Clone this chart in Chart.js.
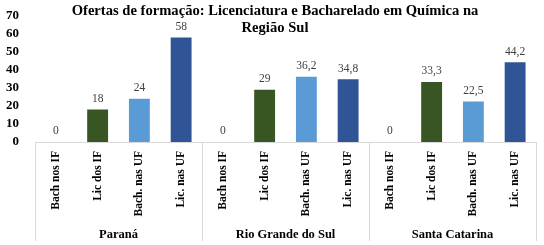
<!DOCTYPE html>
<html>
<head>
<meta charset="utf-8">
<script src="https://cdn.jsdelivr.net/npm/chart.js@4"></script>
<style>
  html, body { margin: 0; padding: 0; background: #fff; }
  #box { width: 544px; height: 245px; }
</style>
</head>
<body>
<div id="box"><canvas id="grafico"></canvas></div>
<script>
// Dados
const estados = ['Paraná', 'Rio Grande do Sul', 'Santa Catarina'];
const cursos = ['Bach nos IF', 'Lic dos IF', 'Bach. nas UF', 'Lic. nas UF'];
const parana = [0, 18, 24, 58];
const rioGrandeDoSul = [0, 29, 36.2, 34.8];
const santaCatarina = [0, 33.3, 22.5, 44.2];
const corCursos = ['#375623', '#375623', '#5B9BD5', '#2F5597'];
const titulo = ['Ofertas de formação: Licenciatura e Bacharelado em Química na', 'Região Sul'];

const serif = '"Liberation Serif", "Times New Roman", serif';

// monta rótulos e valores
const porEstado = [parana, rioGrandeDoSul, santaCatarina];
const rotulos = [];
const valores = [];
const cores = [];
porEstado.forEach(function (vals) {
    vals.forEach(function (v, i) {
        rotulos.push(cursos[i]);
        valores.push(v);
        cores.push(corCursos[i]);
    });
});

// desenha título, valores, separadores e nomes dos estados
const extras = {
    id: 'extras',
    afterDatasetsDraw(chart) {
        const ctx = chart.ctx;
        const x = chart.scales.x;
        const area = chart.chartArea;
        const meta = chart.getDatasetMeta(0);

        // valores sobre as barras
        ctx.save();
        ctx.fillStyle = '#404040';
        ctx.font = '11.5px ' + serif;
        ctx.textAlign = 'center';
        ctx.textBaseline = 'bottom';
        meta.data.forEach(function (bar, i) {
            ctx.fillText(String(valores[i]).replace('.', ','), bar.x, bar.y - 5);
        });
        ctx.restore();

        // eixo e separadores
        const n = cursos.length;
        const passo = (x.right - x.left) / rotulos.length;
        ctx.save();
        ctx.strokeStyle = '#d9d9d9';
        ctx.lineWidth = 1;
        ctx.beginPath();
        ctx.moveTo(x.left, area.bottom + 0.5);
        ctx.lineTo(x.right, area.bottom + 0.5);
        for (let g = 0; g <= estados.length; g++) {
            const px = Math.round(x.left + g * n * passo) + 0.5;
            ctx.moveTo(px, area.bottom);
            ctx.lineTo(px, 241);
        }
        ctx.stroke();

        // nomes dos estados
        ctx.fillStyle = '#000';
        ctx.font = 'bold 12.5px ' + serif;
        ctx.textAlign = 'center';
        ctx.textBaseline = 'middle';
        estados.forEach(function (e, g) {
            ctx.fillText(e, x.left + (g + 0.5) * n * passo, 235);
        });

        // título
        ctx.font = 'bold 14.6px ' + serif;
        ctx.fillText(titulo[0], 275, 11);
        ctx.fillText(titulo[1], 275, 28);
        ctx.restore();
    }
};

const grafico = new Chart(document.getElementById('grafico'), {
    type: 'bar',
    data: {
        labels: rotulos,
        datasets: [{
            data: valores,
            backgroundColor: cores,
            categoryPercentage: 1,
            barPercentage: 0.5
        }]
    },
    options: {
        responsive: true,
        maintainAspectRatio: false,
        animation: false,
        layout: { padding: { top: 14, right: 8, bottom: 0, left: 0 } },
        plugins: {
            legend: { display: false },
            tooltip: { enabled: false },
            title: { display: false }
        },
        scales: {
            y: {
                min: 0,
                max: 70,
                ticks: {
                    stepSize: 10,
                    autoSkip: false,
                    color: '#000',
                    font: { family: serif, size: 13, weight: 'bold' },
                    padding: 8
                },
                grid: { display: false },
                border: { display: false },
                afterFit(s) { s.width = 35; }
            },
            x: {
                ticks: {
                    minRotation: 90,
                    maxRotation: 90,
                    autoSkip: false,
                    padding: 1,
                    color: '#000',
                    font: { family: serif, size: 11.5, weight: 'bold' }
                },
                grid: { display: false },
                border: { display: false },
                afterFit(s) { s.height = 103; }
            }
        }
    },
    plugins: [extras]
});
</script>
</body>
</html>
